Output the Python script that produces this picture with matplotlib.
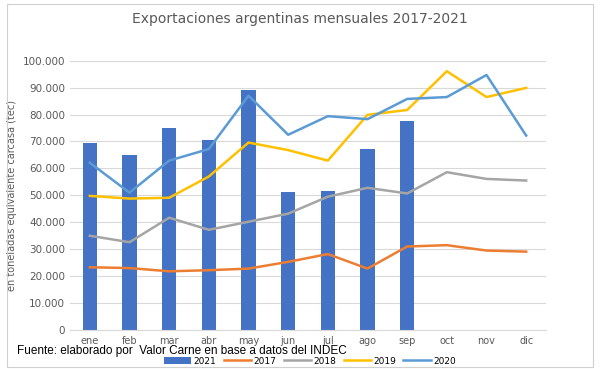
import numpy as np
import matplotlib.pyplot as plt
from matplotlib.ticker import FuncFormatter
from matplotlib.patches import Rectangle

# Monthly data (tec)
meses = ["ene", "feb", "mar", "abr", "may", "jun", "jul", "ago", "sep", "oct", "nov", "dic"]
exp_2021 = [69400, 65000, 74900, 70600, 89100, 51300, 51600, 67200, 77600]
exp_2017 = [23300, 23000, 21800, 22200, 22800, 25300, 28200, 22800, 31000, 31500, 29500, 29100]
exp_2018 = [35000, 32600, 41700, 37200, 40200, 43200, 49500, 52800, 50700, 58600, 56100, 55500]
exp_2019 = [49800, 48800, 49100, 57000, 69600, 66800, 62900, 79900, 81700, 96100, 86500, 89900]
exp_2020 = [62100, 51000, 62900, 67200, 87000, 72500, 79400, 78300, 85800, 86500, 94700, 72200]

fig = plt.figure(figsize=(6, 3.69), dpi=100)
ax = fig.add_axes([70/600, 1 - 330/369, 476/600, (330 - 60.7)/369])

x = np.arange(len(meses))
ax.bar(x[:len(exp_2021)], exp_2021, width=0.36, color="#4472C4", label="2021", zorder=2)
ax.plot(x, exp_2017, color="#ED7D31", lw=1.8, label="2017", zorder=3)
ax.plot(x, exp_2018, color="#A5A5A5", lw=1.8, label="2018", zorder=3)
ax.plot(x, exp_2019, color="#FFC000", lw=1.8, label="2019", zorder=3)
ax.plot(x, exp_2020, color="#5B9BD5", lw=1.8, label="2020", zorder=3)

ax.set_xlim(-0.5, 11.5)
ax.set_ylim(0, 100000)
ax.set_yticks(np.arange(0, 100001, 10000))
ax.yaxis.set_major_formatter(FuncFormatter(lambda v, p: f"{int(v):,}".replace(",", ".")))
ax.set_xticks(x)
ax.set_xticklabels(meses)
ax.grid(axis="y", color="#D9D9D9", lw=0.8, zorder=0)
for s in ["top", "right", "left"]:
    ax.spines[s].set_visible(False)
ax.spines["bottom"].set_color("#D9D9D9")
ax.tick_params(length=0, labelsize=7.5, colors="#595959")
ax.tick_params(axis="x", pad=4, labelsize=7)

ax.set_ylabel("en toneladas equivalente carcasa (tec)", fontsize=7, color="#595959", labelpad=4)
fig.text(0.5, 1 - 19/369, "Exportaciones argentinas mensuales 2017-2021", ha="center", va="center",
         fontsize=10, color="#595959")
fig.text(17/600, 1 - 351/369, "Fuente: elaborado por  Valor Carne en base a datos del INDEC",
         family="Liberation Sans", fontsize=8.5, color="black", va="center")

handles, labels = ax.get_legend_handles_labels()
order = [labels.index(l) for l in ["2021", "2017", "2018", "2019", "2020"]]
ax.legend([handles[i] for i in order], [labels[i] for i in order],
          loc="center", bbox_to_anchor=(310/600, 1 - 361/369), bbox_transform=fig.transFigure,
          ncol=5, frameon=False, fontsize=6.5, handlelength=3, columnspacing=0.8,
          handletextpad=0.3, borderpad=0)

fig.patches.append(Rectangle((0.012, 0.005), 0.976, 0.985, transform=fig.transFigure,
                             fill=False, edgecolor="#D0D0D0", lw=0.8))

fig.savefig("out.png", dpi=100)
